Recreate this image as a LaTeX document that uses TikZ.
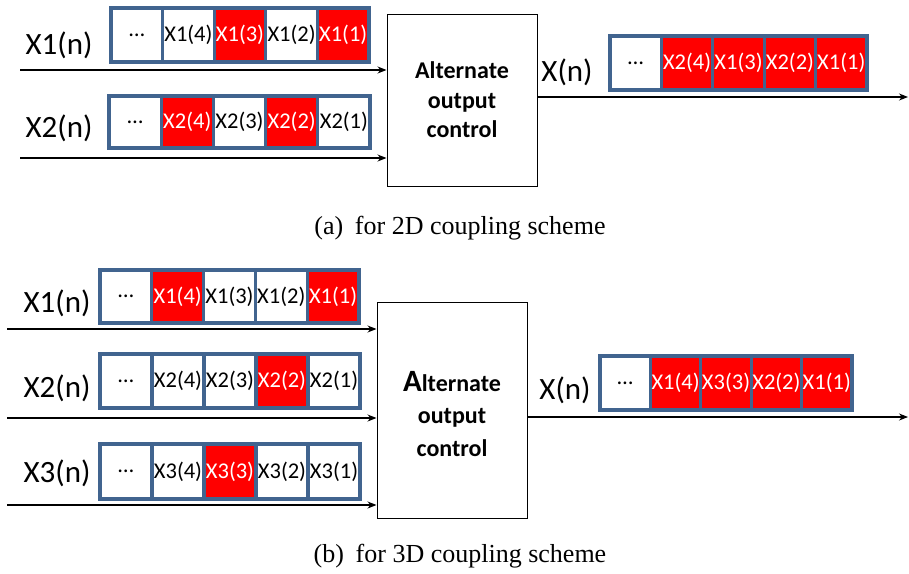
\documentclass[tikz,border=0pt]{standalone}
\usepackage{fontspec}
\setmainfont{Carlito}
\newfontfamily\capfont{Liberation Serif}
\usetikzlibrary{arrows.meta}
\definecolor{cellblue}{HTML}{41648F}
\definecolor{cellred}{HTML}{FF0000}
\tikzset{
  cell/.style={draw=cellblue, line width=3.2pt, inner sep=0pt, font=\fontsize{22.5}{22.5}\selectfont},
  cw/.style={cell, fill=white, text=black},
  cr/.style={cell, fill=cellred, text=white},
  sig/.style={font=\fontsize{31}{31}\selectfont, inner sep=0pt},
  block/.style={draw=black, line width=1pt, inner sep=0pt, align=center},
  arr/.style={draw=black, line width=1.1pt, -{Stealth[length=9pt,width=7pt]}},
  captext/.style={font=\capfont\fontsize{26}{26}\selectfont, inner sep=0pt},
}
\newcommand{\cellrow}[6]{% name, x0, w, ycenter, h, list
  \foreach \t/\s [count=\i] in {#6}{
    \node[\s, minimum width=#3pt, minimum height=#5pt] (#1-\i) at ({#2+(\i-0.5)*#3}, #4) {\t};
  }
}
\begin{document}
\begin{tikzpicture}[x=1pt,y=-1pt]
\useasboundingbox (0,0) rectangle (909,573);

% ---------- (a) ----------
\node[block, minimum width=150pt, minimum height=172pt, font=\fontsize{24}{29.5}\selectfont\bfseries] (blockA) at (462,100) {Alternate\\output\\control};

\cellrow{ra1}{111}{51.6}{35}{54}{…/cw, X1(4)/cw, X1(3)/cr, X1(2)/cw, X1(1)/cr}
\cellrow{ra2}{109}{52.2}{122}{52}{…/cw, X2(4)/cr, X2(3)/cw, X2(2)/cr, X2(1)/cw}
\cellrow{rao}{610}{51.4}{63}{54}{…/cw, X2(4)/cr, X1(3)/cr, X2(2)/cr, X1(1)/cr}

\node[sig] (la1) at (59,45) {X1(n)};
\node[sig] (la2) at (59,128) {X2(n)};
\node[sig] (lao) at (567,72) {X(n)};

\coordinate (sa1) at (20,70);
\coordinate (sa2) at (20,158);
\coordinate (ea) at (908,97);
\draw[arr] (sa1) -- (sa1 -| blockA.west);
\draw[arr] (sa2) -- (sa2 -| blockA.west);
\draw[arr] (ea -| blockA.east) -- (ea);

\node[captext] (capA) at (460,228) {(a)\hspace{0.45em}for 2D coupling scheme};

% ---------- (b) ----------
\node[block, minimum width=150pt, minimum height=216pt] (blockB) at (452,410) {};
\node[align=center, inner sep=0pt, font=\fontsize{24}{32.5}\selectfont\bfseries] (textB) at (452,414) {{\fontsize{31}{31}\selectfont A}lternate\\output\\control};

\cellrow{rb1}{100}{51.8}{296.5}{53}{…/cw, X1(4)/cr, X1(3)/cw, X1(2)/cw, X1(1)/cr}
\cellrow{rb2}{100}{52}{381}{54}{…/cw, X2(4)/cw, X2(3)/cw, X2(2)/cr, X2(1)/cw}
\cellrow{rb3}{100}{52}{471.5}{55}{…/cw, X3(4)/cw, X3(3)/cr, X3(2)/cw, X3(1)/cw}
\cellrow{rbo}{600}{50.4}{383}{54}{…/cw, X1(4)/cr, X3(3)/cr, X2(2)/cr, X1(1)/cr}

\node[sig] (lb1) at (57,303) {X1(n)};
\node[sig] (lb2) at (57,388) {X2(n)};
\node[sig] (lb3) at (57,473) {X3(n)};
\node[sig] (lbo) at (565,390) {X(n)};

\coordinate (sb1) at (7,329);
\coordinate (sb2) at (7,418);
\coordinate (sb3) at (7,505);
\coordinate (eb) at (908,417);
\draw[arr] (sb1) -- (sb1 -| blockB.west);
\draw[arr] (sb2) -- (sb2 -| blockB.west);
\draw[arr] (sb3) -- (sb3 -| blockB.west);
\draw[arr] (eb -| blockB.east) -- (eb);

\node[captext] (capB) at (460,556) {(b)\hspace{0.45em}for 3D coupling scheme};
\end{tikzpicture}
\end{document}
